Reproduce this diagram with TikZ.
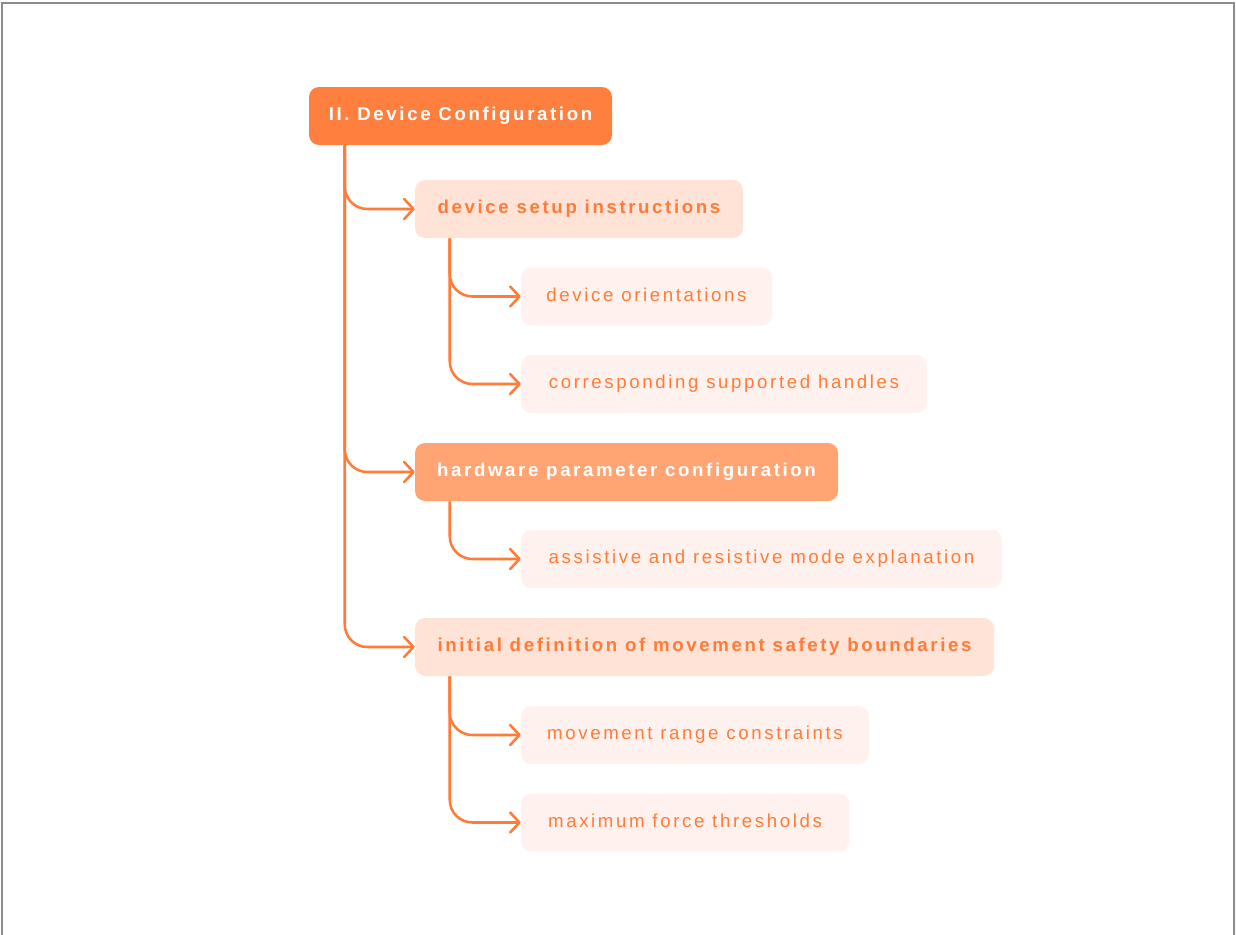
\documentclass[tikz,border=0pt]{standalone}
\usepackage{fontspec}
\setmainfont{Liberation Sans}[LetterSpace=14]
\usetikzlibrary{arrows.meta}
\definecolor{accent}{HTML}{FF7B37}
\definecolor{rootfill}{HTML}{FF7F3E}
\definecolor{midfill}{HTML}{FFA472}
\definecolor{softfill}{HTML}{FFE3D7}
\definecolor{palefill}{HTML}{FFF2EE}
\definecolor{framegray}{HTML}{8C8C8C}
\begin{document}
\begin{tikzpicture}[x=0.75pt,y=-0.75pt,
  box/.style={rounded corners=7.5pt, minimum height=43.5pt, inner sep=0pt,
    text height=0.72em, text depth=0pt,
    font=\fontsize{14pt}{17pt}\selectfont},
  rootbox/.style={box, fill=rootfill, text=white, font=\fontsize{14pt}{17pt}\selectfont\bfseries},
  midbox/.style={box, fill=midfill, text=white, font=\fontsize{14pt}{17pt}\selectfont\bfseries},
  softbox/.style={box, fill=softfill, text=accent, font=\fontsize{14pt}{17pt}\selectfont\bfseries},
  leafbox/.style={box, fill=palefill, text=accent},
  conn/.style={draw=accent, line width=1.9pt, rounded corners=17pt,
    -{Straight Barb[length=7pt,width=15pt,line cap=round,line join=round]}}
]
\useasboundingbox (0,0) rectangle (1236,935);
\draw[framegray, line width=1.5pt] (2,935) -- (2,3) -- (1234,3) -- (1234,935);

% outline tree
\node[rootbox, minimum width=303*0.75pt] (root) at (460.5,116) {II. Device Configuration};
\node[softbox, minimum width=328*0.75pt] (setup) at (579,209) {device setup instructions};
\node[leafbox, minimum width=251*0.75pt] (orient) at (646.5,296.5) {device orientations};
\node[leafbox, minimum width=406*0.75pt] (handles) at (724,384) {corresponding supported handles};
\node[midbox, minimum width=423*0.75pt] (hw) at (626.5,472) {hardware parameter configuration};
\node[leafbox, minimum width=481*0.75pt] (modes) at (761.5,559) {assistive and resistive mode explanation};
\node[softbox, minimum width=579*0.75pt] (safety) at (704.5,647) {initial definition of movement safety boundaries};
\node[leafbox, minimum width=348*0.75pt] (range) at (695,735) {movement range constraints};
\node[leafbox, minimum width=328*0.75pt] (force) at (685,822.5) {maximum force thresholds};

% branch origins under each parent
\coordinate (rootstem) at ([xshift=36*0.75pt]root.south west);
\coordinate (setupstem) at ([xshift=35*0.75pt]setup.south west);
\coordinate (hwstem) at ([xshift=35*0.75pt]hw.south west);
\coordinate (safetystem) at ([xshift=35*0.75pt]safety.south west);

\draw[conn] (rootstem) |- (setup.west);
\draw[conn] (rootstem) |- (hw.west);
\draw[conn] (rootstem) |- (safety.west);
\draw[conn] (setupstem) |- (orient.west);
\draw[conn] (setupstem) |- (handles.west);
\draw[conn] (hwstem) |- (modes.west);
\draw[conn] (safetystem) |- (range.west);
\draw[conn] (safetystem) |- (force.west);
\end{tikzpicture}
\end{document}
